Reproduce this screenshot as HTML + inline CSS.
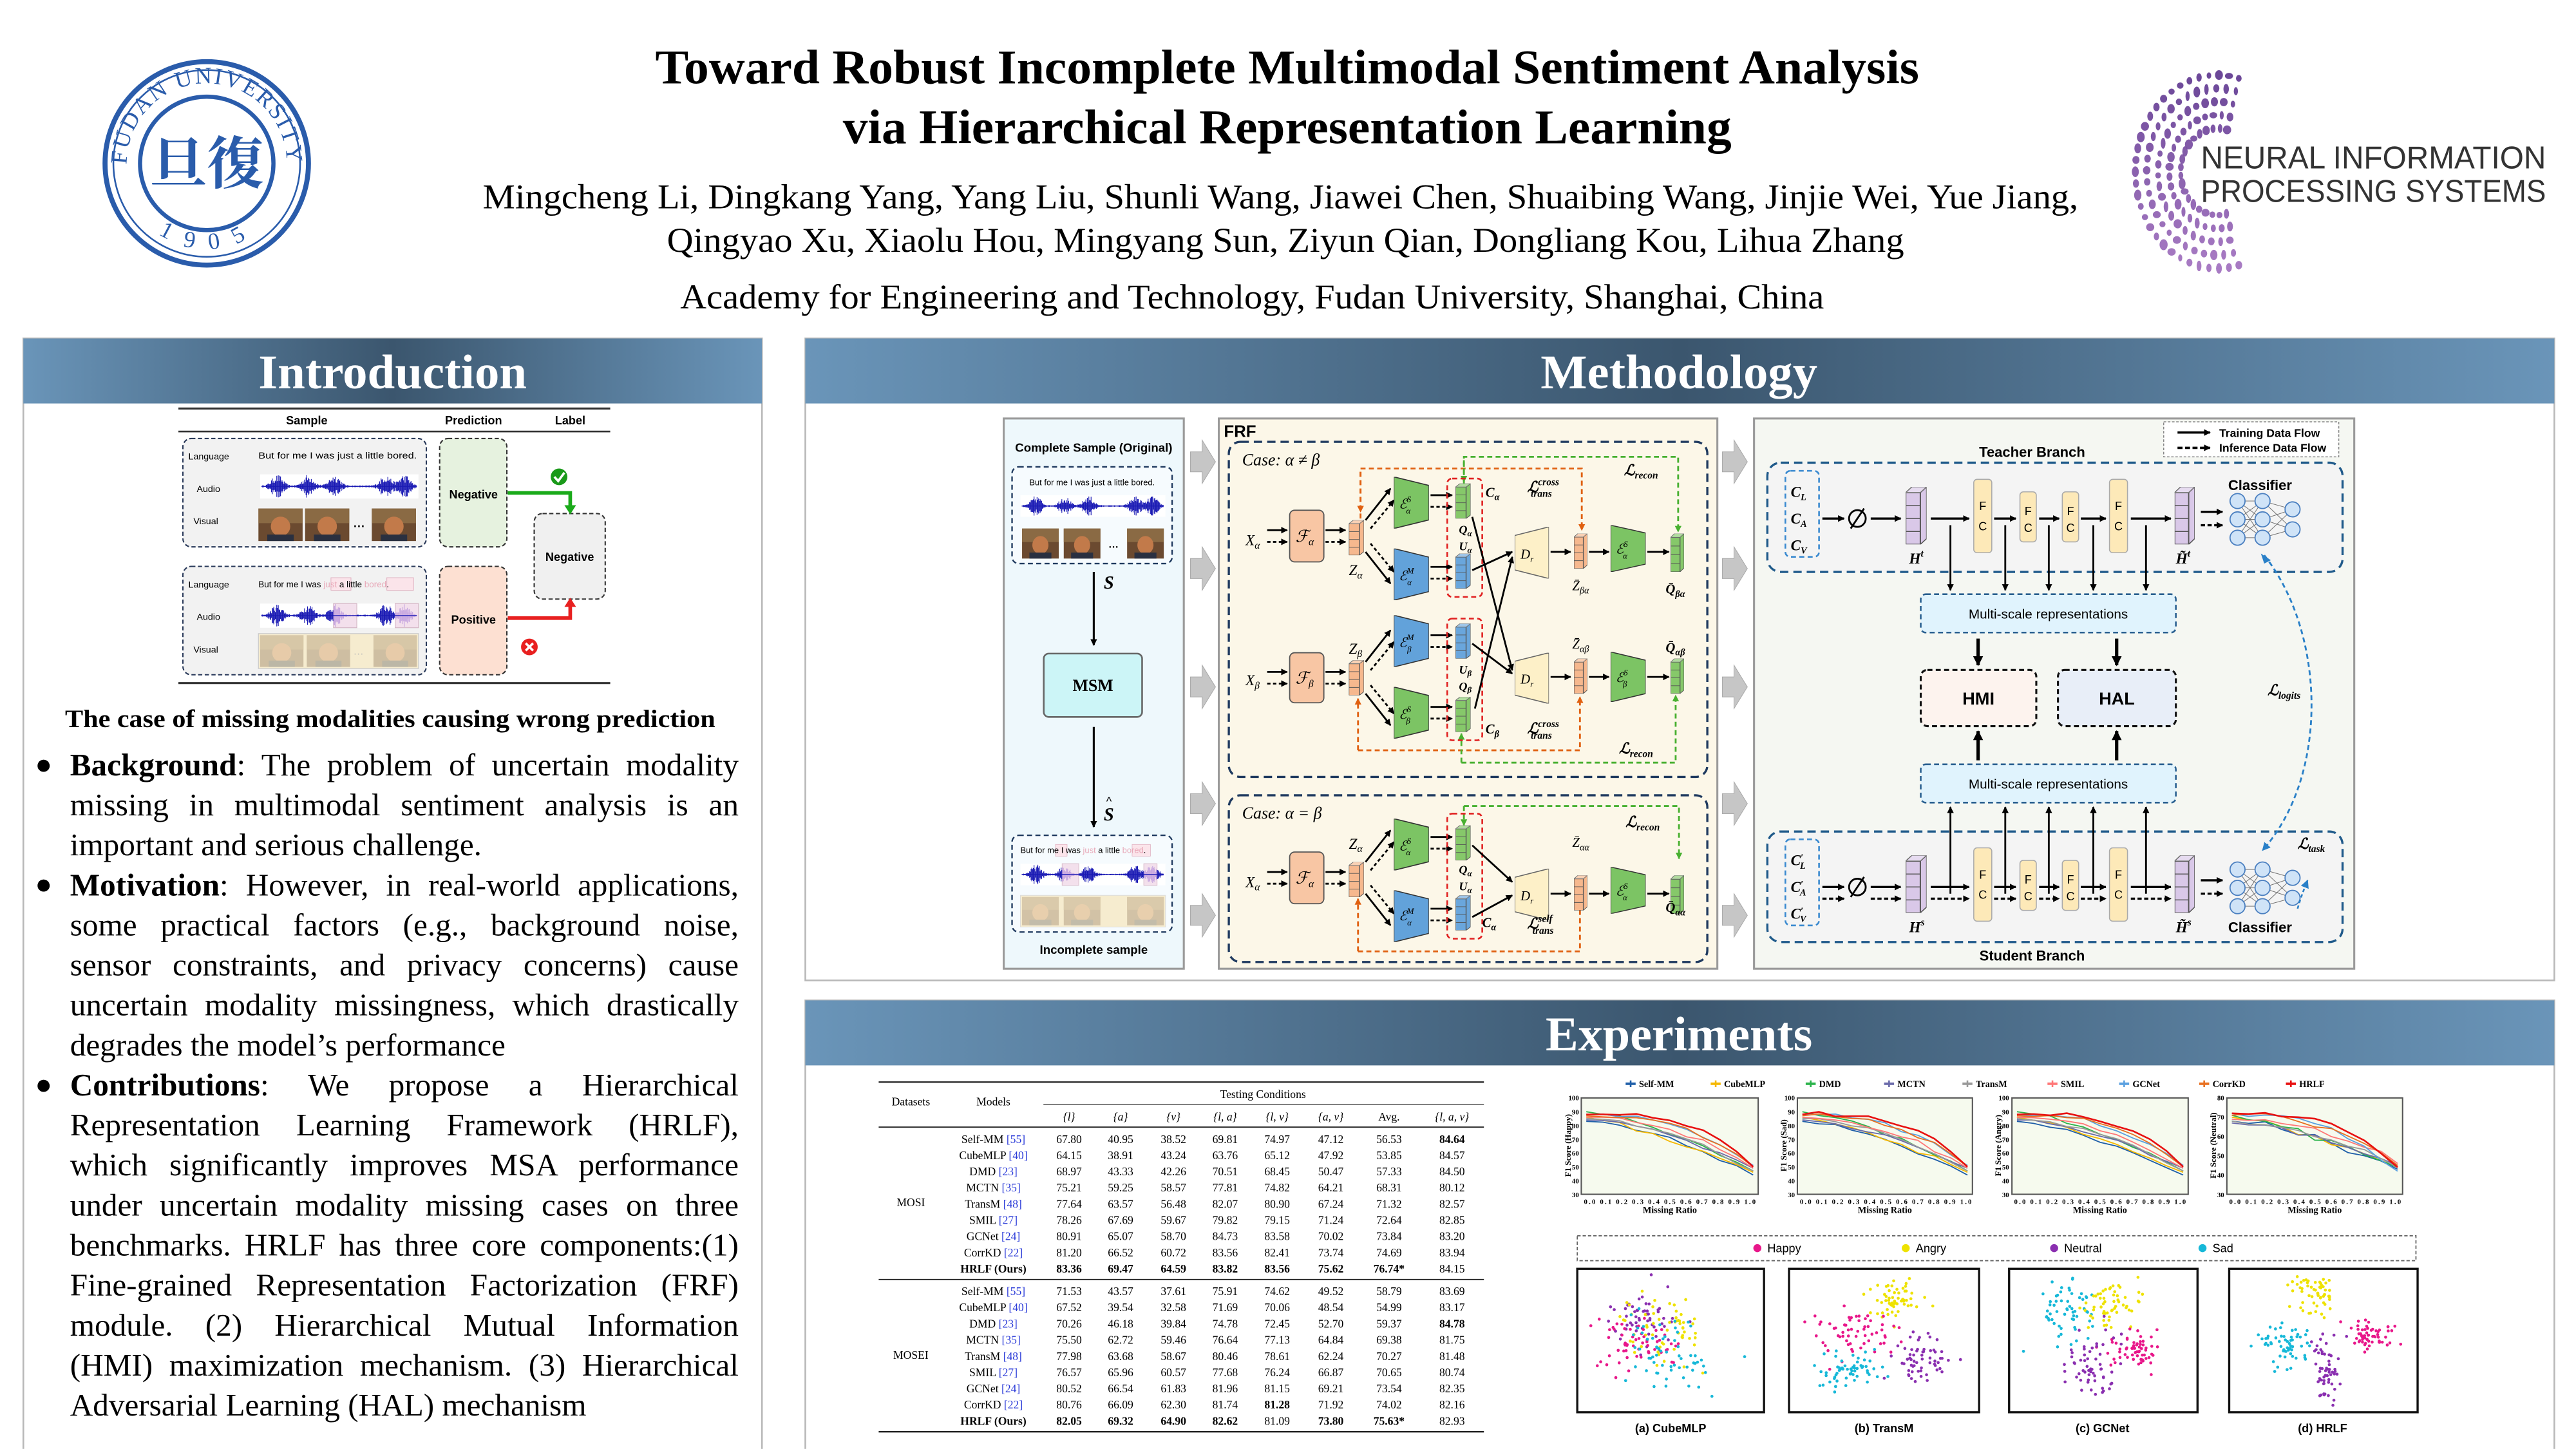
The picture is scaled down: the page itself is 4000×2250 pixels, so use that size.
<!DOCTYPE html>
<html><head><meta charset="utf-8"><style>
html,body{margin:0;padding:0;background:#fff;width:4000px;height:2250px;overflow:hidden}
#p{position:absolute;left:0;top:0;width:1545px;height:869px;transform:scale(2.589);transform-origin:0 0}
svg text{font-family:"Liberation Sans","DejaVu Sans",sans-serif}
.sf{font-family:"Liberation Serif","DejaVu Serif",serif !important}
.m{font-family:"Liberation Serif","DejaVu Serif",serif !important;font-style:italic}
.b{font-weight:bold}
</style></head><body><div id="p">
<svg width="1545" height="869" viewBox="0 0 1545 869" xmlns="http://www.w3.org/2000/svg" style="position:absolute;left:0;top:0">
<defs>
<linearGradient id="hg" x1="0" x2="1" y1="0" y2="0"><stop offset="0" stop-color="#6a95b9"/><stop offset=".5" stop-color="#3b566e"/><stop offset="1" stop-color="#6a95b9"/></linearGradient>
<marker id="ah" viewBox="0 0 10 10" refX="9" refY="5" markerWidth="4" markerHeight="4" markerUnits="userSpaceOnUse" orient="auto"><path d="M0,0 L10,5 L0,10 z" fill="#000"/></marker>
<marker id="ahb" viewBox="0 0 10 10" refX="9" refY="5" markerWidth="6" markerHeight="6" markerUnits="userSpaceOnUse" orient="auto"><path d="M0,0 L10,5 L0,10 z" fill="#000"/></marker>
<marker id="aho" viewBox="0 0 10 10" refX="9" refY="5" markerWidth="4" markerHeight="4" markerUnits="userSpaceOnUse" orient="auto"><path d="M0,0 L10,5 L0,10 z" fill="#e06010"/></marker>
<marker id="ahg" viewBox="0 0 10 10" refX="9" refY="5" markerWidth="4" markerHeight="4" markerUnits="userSpaceOnUse" orient="auto"><path d="M0,0 L10,5 L0,10 z" fill="#48b030"/></marker>
<marker id="ahc" viewBox="0 0 10 10" refX="9" refY="5" markerWidth="5" markerHeight="5" markerUnits="userSpaceOnUse" orient="auto"><path d="M0,0 L10,5 L0,10 z" fill="#2a80c8"/></marker>
<symbol id="stk" viewBox="0 0 10 30" preserveAspectRatio="none"><polygon points="0,3 3,0 10,0 7,3" stroke="#555" stroke-width=".5"/><polygon points="7,3 10,0 10,27 7,30" stroke="#555" stroke-width=".5"/><rect x="0" y="3" width="7" height="27" stroke="#555" stroke-width=".6"/><path d="M0,9.75H7M0,16.5H7M0,23.25H7" stroke="#555" stroke-width=".5"/><polygon points="0,3 3,0 10,0 7,3" fill="#fff" opacity=".35"/></symbol>
<symbol id="enc" viewBox="0 0 20 30" preserveAspectRatio="none"><polygon points="0,0 20,5 20,25 0,30" stroke="#333" stroke-width=".6"/></symbol>
<symbol id="dec" viewBox="0 0 20 30" preserveAspectRatio="none"><polygon points="0,5 20,0 20,30 0,25" stroke="#666" stroke-width=".6"/></symbol>
</defs>

<!-- ===== HEADER ===== -->
<g>
<circle cx="124" cy="98" r="61" fill="#fff" stroke="#2a5cab" stroke-width="3"/>
<circle cx="124" cy="98" r="56" fill="none" stroke="#2a5cab" stroke-width="1"/>
<circle cx="124" cy="98" r="40" fill="none" stroke="#2a5cab" stroke-width="2.5"/>
<path id="arcT" d="M76,98 A48,48 0 0 1 172,98" fill="none"/>
<path id="arcB" d="M86,112 A40,40 0 0 0 162,112" fill="none"/>
<text class="sf" font-size="14" fill="#2a5cab" letter-spacing="1"><textPath href="#arcT" startOffset="50%" text-anchor="middle">FUDAN UNIVERSITY</textPath></text>
<text class="sf" font-size="14" fill="#2a5cab" letter-spacing="6"><textPath href="#arcB" startOffset="50%" text-anchor="middle" dominant-baseline="hanging">1905</textPath></text>
<text x="124" y="110" text-anchor="middle" font-size="34" font-weight="bold" fill="#2a5cab" style="font-family:'Noto Serif CJK SC','Noto Sans CJK SC',serif">旦復</text>
</g>
<g id="nips"></g>
<text x="1320" y="101" font-size="19" fill="#333" textLength="207" lengthAdjust="spacingAndGlyphs">NEURAL INFORMATION</text>
<text x="1320" y="121" font-size="19" fill="#333" textLength="207" lengthAdjust="spacingAndGlyphs">PROCESSING SYSTEMS</text>

<text class="sf b" x="772" y="50" text-anchor="middle" font-size="29" textLength="758" lengthAdjust="spacingAndGlyphs">Toward Robust Incomplete Multimodal Sentiment Analysis</text>
<text class="sf b" x="772" y="86" text-anchor="middle" font-size="29" textLength="533" lengthAdjust="spacingAndGlyphs">via Hierarchical Representation Learning</text>
<text class="sf" x="768" y="125" text-anchor="middle" font-size="21" textLength="957" lengthAdjust="spacingAndGlyphs">Mingcheng Li, Dingkang Yang, Yang Liu, Shunli Wang, Jiawei Chen, Shuaibing Wang, Jinjie Wei, Yue Jiang,</text>
<text class="sf" x="771" y="151" text-anchor="middle" font-size="21" textLength="742" lengthAdjust="spacingAndGlyphs">Qingyao Xu, Xiaolu Hou, Mingyang Sun, Ziyun Qian, Dongliang Kou, Lihua Zhang</text>
<text class="sf" x="751" y="185" text-anchor="middle" font-size="21" textLength="686" lengthAdjust="spacingAndGlyphs">Academy for Engineering and Technology, Fudan University, Shanghai, China</text>

<!-- ===== PANELS ===== -->
<rect x="14" y="203" width="443" height="669" fill="#fff" stroke="#b8b8b8" stroke-width="1"/>
<rect x="14" y="203" width="443" height="39" fill="url(#hg)"/>
<text class="sf b" x="235.5" y="233" text-anchor="middle" font-size="29" fill="#fff" textLength="161" lengthAdjust="spacingAndGlyphs">Introduction</text>
<rect x="483" y="203" width="1049" height="385" fill="#fff" stroke="#b8b8b8" stroke-width="1"/>
<rect x="483" y="203" width="1049" height="39" fill="url(#hg)"/>
<text class="sf b" x="1007" y="233" text-anchor="middle" font-size="29" fill="#fff" textLength="166" lengthAdjust="spacingAndGlyphs">Methodology</text>
<rect x="483" y="600" width="1049" height="272" fill="#fff" stroke="#b8b8b8" stroke-width="1"/>
<rect x="483" y="600" width="1049" height="39" fill="url(#hg)"/>
<text class="sf b" x="1007" y="630" text-anchor="middle" font-size="29" fill="#fff" textLength="160" lengthAdjust="spacingAndGlyphs">Experiments</text>

<!-- ===== INTRO FIGURE ===== -->
<g>
<line x1="107" y1="245" x2="366" y2="245" stroke="#333" stroke-width="1.2"/>
<line x1="107" y1="258.8" x2="366" y2="258.8" stroke="#333" stroke-width="1"/>
<line x1="107" y1="409.7" x2="366" y2="409.7" stroke="#333" stroke-width="1.2"/>
<text x="184" y="254.5" font-size="7" font-weight="bold" text-anchor="middle">Sample</text>
<text x="284" y="254.5" font-size="7" font-weight="bold" text-anchor="middle">Prediction</text>
<text x="342" y="254.5" font-size="7" font-weight="bold" text-anchor="middle">Label</text>
<rect x="109.7" y="263" width="146" height="65" rx="5" fill="#f2f2f2" stroke="#2a3a5a" stroke-width=".8" stroke-dasharray="2.5,1.5"/>
<rect x="109.7" y="339.7" width="146" height="65" rx="5" fill="#f2f2f2" stroke="#2a3a5a" stroke-width=".8" stroke-dasharray="2.5,1.5"/>
<rect x="263.7" y="263" width="40.3" height="65" rx="5" fill="#e6f2df" stroke="#333" stroke-width=".8" stroke-dasharray="2.5,1.5"/>
<rect x="263.7" y="339.7" width="40.3" height="65" rx="5" fill="#fde0d2" stroke="#333" stroke-width=".8" stroke-dasharray="2.5,1.5"/>
<rect x="320.4" y="308" width="42.6" height="51.3" rx="5" fill="#f0f0f0" stroke="#333" stroke-width=".8" stroke-dasharray="2.5,1.5"/>
<text x="284" y="299" font-size="7" font-weight="bold" text-anchor="middle">Negative</text>
<text x="341.7" y="336.5" font-size="7" font-weight="bold" text-anchor="middle">Negative</text>
<text x="284" y="374" font-size="7" font-weight="bold" text-anchor="middle">Positive</text>
<text x="113" y="275.5" font-size="5.5">Language</text><text x="118" y="295" font-size="5.5">Audio</text><text x="116" y="314.5" font-size="5.5">Visual</text>
<text x="113" y="352.5" font-size="5.5">Language</text><text x="118" y="371.8" font-size="5.5">Audio</text><text x="116" y="391.5" font-size="5.5">Visual</text>
<text x="155" y="275" font-size="5.2" textLength="95" lengthAdjust="spacingAndGlyphs">But for me I was just a little bored.</text>
<rect x="198.5" y="346.5" width="12" height="7.5" fill="#fbe4ea" stroke="#e0b0c0" stroke-width=".4"/>
<rect x="232" y="346.5" width="16" height="7.5" fill="#fbe4ea" stroke="#e0b0c0" stroke-width=".4"/>
<text x="155" y="352.3" font-size="5.2">But for me I was <tspan fill="#e8a8b8">just</tspan> a little <tspan fill="#e8a8b8">bored</tspan>.</text>
<rect x="156" y="284.5" width="95" height="14.5" fill="#fff"/>
<rect x="156" y="362" width="95" height="14.5" fill="#fff"/>
<rect x="200" y="362" width="14" height="14.5" fill="#f3e0ec" stroke="#d0b0c0" stroke-width=".4"/>
<rect x="237" y="362" width="14" height="14.5" fill="#f3e0ec" stroke="#d0b0c0" stroke-width=".4"/>
<g id="w1"></g>
<g id="faces1"></g>
<text x="212" y="318" font-size="7" font-weight="bold">···</text>
<rect x="155" y="380" width="96" height="21" fill="#f6eccf" stroke="#ccc" stroke-width=".5"/>
<g id="faces2" opacity=".28"></g>
<text x="212" y="394" font-size="6" fill="#bbb">···</text>
<path d="M304.5,295.6 H342 V304" fill="none" stroke="#1aaa1a" stroke-width="2.2"/>
<polygon points="338.5,303 345.5,303 342,308.5" fill="#1aaa1a"/>
<circle cx="335.3" cy="286" r="5" fill="#1a9a1a"/>
<path d="M332.5,286 L334.8,288.5 L338.5,283.5" fill="none" stroke="#fff" stroke-width="1.4"/>
<path d="M304.5,370.7 H342 V363" fill="none" stroke="#e82020" stroke-width="2.2"/>
<polygon points="338.5,364 345.5,364 342,358.5" fill="#e82020"/>
<circle cx="317.5" cy="388" r="5" fill="#e82020"/>
<path d="M315.3,385.8 L319.7,390.2 M319.7,385.8 L315.3,390.2" stroke="#fff" stroke-width="1.4"/>
<text class="sf b" x="234" y="436" text-anchor="middle" font-size="15" textLength="390" lengthAdjust="spacingAndGlyphs">The case of missing modalities causing wrong prediction</text>
</g>

<!-- ===== INTRO TEXT ===== -->
<g class="sf" font-size="19" style="font-family:'Liberation Serif',serif">
<text x="21" y="464" font-size="17">●</text><text x="21" y="536" font-size="17">●</text><text x="21" y="656" font-size="17">●</text>
<text class="sf jl" x="42" y="465" textLength="401" lengthAdjust="spacing"><tspan font-weight="bold">Background</tspan>: The problem of uncertain modality</text>
<text class="sf jl" x="42" y="489" textLength="401" lengthAdjust="spacing">missing in multimodal sentiment analysis is an</text>
<text class="sf" x="42" y="513">important and serious challenge.</text>
<text class="sf jl" x="42" y="537" textLength="401" lengthAdjust="spacing"><tspan font-weight="bold">Motivation</tspan>: However, in real-world applications,</text>
<text class="sf jl" x="42" y="561" textLength="401" lengthAdjust="spacing">some practical factors (e.g., background noise,</text>
<text class="sf jl" x="42" y="585" textLength="401" lengthAdjust="spacing">sensor constraints, and privacy concerns) cause</text>
<text class="sf jl" x="42" y="609" textLength="401" lengthAdjust="spacing">uncertain modality missingness, which drastically</text>
<text class="sf" x="42" y="633">degrades the model’s performance</text>
<text class="sf jl" x="42" y="657" textLength="401" lengthAdjust="spacing"><tspan font-weight="bold">Contributions</tspan>: We propose a Hierarchical</text>
<text class="sf jl" x="42" y="681" textLength="401" lengthAdjust="spacing">Representation Learning Framework (HRLF),</text>
<text class="sf jl" x="42" y="705" textLength="401" lengthAdjust="spacing">which significantly improves MSA performance</text>
<text class="sf jl" x="42" y="729" textLength="401" lengthAdjust="spacing">under uncertain modality missing cases on three</text>
<text class="sf jl" x="42" y="753" textLength="401" lengthAdjust="spacing">benchmarks. HRLF has three core components:(1)</text>
<text class="sf jl" x="42" y="777" textLength="401" lengthAdjust="spacing">Fine-grained Representation Factorization (FRF)</text>
<text class="sf jl" x="42" y="801" textLength="401" lengthAdjust="spacing">module. (2) Hierarchical Mutual Information</text>
<text class="sf jl" x="42" y="825" textLength="401" lengthAdjust="spacing">(HMI) maximization mechanism. (3) Hierarchical</text>
<text class="sf" x="42" y="849">Adversarial Learning  (HAL) mechanism</text>
</g>

<!-- ===== METHODOLOGY LEFT COLUMN ===== -->
<g>
<rect x="602" y="251" width="108" height="330" fill="#eef8fc" stroke="#9a9a9a" stroke-width="1.2"/>
<text x="656" y="271" font-size="7.2" font-weight="bold" text-anchor="middle">Complete Sample (Original)</text>
<rect x="607" y="280" width="96" height="58" rx="4" fill="#f6fbfe" stroke="#1f3a5f" stroke-width=".9" stroke-dasharray="3,2"/>
<text x="655" y="291" font-size="5" text-anchor="middle">But for me I was just a little bored.</text>
<rect x="612" y="297" width="87" height="13" fill="#fff"/>
<g id="w3"></g>
<g id="faces3"></g>
<text x="665" y="330" font-size="6" font-weight="bold">···</text>
<line x1="656" y1="343" x2="656" y2="387" stroke="#000" stroke-width="1.2" marker-end="url(#ah)"/>
<text class="m b" x="662" y="353" font-size="11">S</text>
<rect x="626" y="392" width="59" height="38" rx="3" fill="#ccf5f7" stroke="#666" stroke-width="1"/>
<text class="sf b" x="655.5" y="414.5" font-size="10" text-anchor="middle">MSM</text>
<line x1="656" y1="436" x2="656" y2="496" stroke="#000" stroke-width="1.2" marker-end="url(#ah)"/>
<text class="m b" x="662" y="492" font-size="11">S</text><text x="663.5" y="483" font-size="7">^</text>
<rect x="607" y="501" width="96" height="58" rx="4" fill="#f6fbfe" stroke="#1f3a5f" stroke-width=".9" stroke-dasharray="3,2"/>
<rect x="633" y="506.5" width="7" height="7" fill="#fbe4ea" stroke="#e0b0c0" stroke-width=".3"/>
<rect x="679" y="506.5" width="11" height="7" fill="#fbe4ea" stroke="#e0b0c0" stroke-width=".3"/>
<text x="612" y="511.5" font-size="5">But for me I was <tspan fill="#e8a8b8">just</tspan> a little <tspan fill="#e8a8b8">bored</tspan>.</text>
<rect x="612" y="518" width="87" height="13" fill="#fff"/>
<rect x="637" y="518" width="10" height="13" fill="#f3e0ec" stroke="#d0b0c0" stroke-width=".3"/>
<rect x="686" y="518" width="8" height="13" fill="#f3e0ec" stroke="#d0b0c0" stroke-width=".3"/>
<g id="w4"></g>
<rect x="612" y="537" width="87" height="19" fill="#f6eccf" stroke="#ddd" stroke-width=".4"/>
<g id="faces4" opacity=".25"></g>
<text x="656" y="572" font-size="7.2" font-weight="bold" text-anchor="middle">Incomplete sample</text>
</g>
<g id="chev" fill="#c6c6c6" stroke="#aaa" stroke-width=".4"></g>

<!-- ===== FRF ===== -->
<g>
<rect x="731" y="251" width="299" height="330" fill="#fcf7e8" stroke="#9a9a9a" stroke-width="1.2"/>
<text x="734" y="262" font-size="10" font-weight="bold">FRF</text>
<rect x="737" y="265" width="287" height="201" rx="7" fill="none" stroke="#1f3a5f" stroke-width="1.3" stroke-dasharray="5,3"/>
<rect x="737" y="477" width="287" height="100" rx="7" fill="none" stroke="#1f3a5f" stroke-width="1.3" stroke-dasharray="5,3"/>
<text class="m" x="745" y="279" font-size="10">Case: α ≠ β</text>
<text class="m" x="745" y="491" font-size="10">Case: α = β</text>

<g fill="none" stroke-width="1.1" stroke-dasharray="3,2">
<path d="M816,311 V281 H948.7 V318" stroke="#e06010" marker-end="url(#aho)"/>
<path d="M878,290 V274 H1006.5 V319" stroke="#48b030" marker-end="url(#ahg)"/>
<path d="M878,276 V289" stroke="#48b030" marker-end="url(#ahg)"/>
<path d="M816,283 V307" stroke="#e06010" marker-end="url(#aho)"/>
<path d="M814.5,450 V419" stroke="#e06010" marker-end="url(#aho)"/>
<path d="M814.5,450 H947.6 V418" stroke="#e06010" marker-end="url(#aho)"/>
<path d="M876.5,457.4 V440" stroke="#48b030" marker-end="url(#ahg)"/>
<path d="M876.5,457.4 H1005 V417" stroke="#48b030" marker-end="url(#ahg)"/>
<path d="M878,483.4 V495" stroke="#48b030" marker-end="url(#ahg)"/>
<path d="M878,483.4 H1007 V515" stroke="#48b030" marker-end="url(#ahg)"/>
<path d="M814.5,570.6 V539" stroke="#e06010" marker-end="url(#aho)"/>
<path d="M814.5,570.6 H947.6 V541" stroke="#e06010" marker-end="url(#aho)"/>
</g>

<g id="row1">
<g stroke="#000" stroke-width="1.1">
<line x1="760" y1="318" x2="772" y2="318" marker-end="url(#ah)"/><line x1="760" y1="325" x2="772" y2="325" stroke-dasharray="2,1.5" marker-end="url(#ah)"/>
<line x1="795" y1="318" x2="807" y2="318" marker-end="url(#ah)"/><line x1="795" y1="325" x2="807" y2="325" stroke-dasharray="2,1.5" marker-end="url(#ah)"/>
<line x1="819" y1="312" x2="834" y2="293" marker-end="url(#ah)"/><line x1="822" y1="317" x2="836" y2="300" stroke-dasharray="2,1.5" marker-end="url(#ah)"/>
<line x1="819" y1="331" x2="834" y2="350" marker-end="url(#ah)"/><line x1="822" y1="326" x2="836" y2="343" stroke-dasharray="2,1.5" marker-end="url(#ah)"/>
<line x1="858" y1="297" x2="871" y2="297" marker-end="url(#ah)"/><line x1="858" y1="304" x2="871" y2="304" stroke-dasharray="2,1.5" marker-end="url(#ah)"/>
<line x1="858" y1="340" x2="871" y2="340" marker-end="url(#ah)"/><line x1="858" y1="347" x2="871" y2="347" stroke-dasharray="2,1.5" marker-end="url(#ah)"/>
<line x1="930" y1="331" x2="942" y2="331" marker-end="url(#ah)"/>
<line x1="953" y1="331" x2="965" y2="331" marker-end="url(#ah)"/>
<line x1="988" y1="331" x2="1001" y2="331" marker-end="url(#ah)"/>
</g>
<rect x="773.5" y="306" width="20.5" height="31" rx="3" fill="#f8c6a4" stroke="#555" stroke-width=".7"/>
<use href="#stk" x="809" y="312" width="9" height="21" fill="#f6b88e"/>
<use href="#enc" x="836" y="286" width="21" height="31" fill="#7cc464"/>
<use href="#enc" x="836" y="329" width="21" height="31" fill="#62a2da"/>
<use href="#stk" x="873" y="290" width="9" height="21" fill="#86c86a"/>
<use href="#stk" x="873" y="332" width="9" height="21" fill="#6aa6dc"/>
<use href="#dec" x="908.5" y="316" width="20.5" height="31" fill="#fdf0c8"/>
<use href="#stk" x="944" y="320" width="8" height="21" fill="#f6b88e"/>
<use href="#enc" x="966" y="315" width="21" height="28" fill="#7cc464"/>
<use href="#stk" x="1002" y="320" width="8" height="23" fill="#86c86a"/>
</g>
<rect x="868" y="287" width="21" height="71" rx="3" fill="none" stroke="#e02020" stroke-width="1" stroke-dasharray="3,2"/>
<g>
<g stroke="#000" stroke-width="1.1">
<line x1="760" y1="403" x2="772" y2="403" marker-end="url(#ah)"/><line x1="760" y1="410" x2="772" y2="410" stroke-dasharray="2,1.5" marker-end="url(#ah)"/>
<line x1="795" y1="403" x2="807" y2="403" marker-end="url(#ah)"/><line x1="795" y1="410" x2="807" y2="410" stroke-dasharray="2,1.5" marker-end="url(#ah)"/>
<line x1="819" y1="397" x2="834" y2="378" marker-end="url(#ah)"/><line x1="822" y1="402" x2="836" y2="385" stroke-dasharray="2,1.5" marker-end="url(#ah)"/>
<line x1="819" y1="416" x2="834" y2="435" marker-end="url(#ah)"/><line x1="822" y1="411" x2="836" y2="428" stroke-dasharray="2,1.5" marker-end="url(#ah)"/>
<line x1="858" y1="381" x2="871" y2="381" marker-end="url(#ah)"/><line x1="858" y1="388" x2="871" y2="388" stroke-dasharray="2,1.5" marker-end="url(#ah)"/>
<line x1="858" y1="424" x2="871" y2="424" marker-end="url(#ah)"/><line x1="858" y1="431" x2="871" y2="431" stroke-dasharray="2,1.5" marker-end="url(#ah)"/>
<line x1="930" y1="406" x2="942" y2="406" marker-end="url(#ah)"/>
<line x1="953" y1="406" x2="965" y2="406" marker-end="url(#ah)"/>
<line x1="988" y1="406" x2="1001" y2="406" marker-end="url(#ah)"/>
</g>
<rect x="773.5" y="391.5" width="20.5" height="30" rx="3" fill="#f8c6a4" stroke="#555" stroke-width=".7"/>
<use href="#stk" x="809" y="396" width="9" height="21" fill="#f6b88e"/>
<use href="#enc" x="836" y="369" width="21" height="31" fill="#62a2da"/>
<use href="#enc" x="836" y="412" width="21" height="31" fill="#7cc464"/>
<use href="#stk" x="873" y="374" width="9" height="21" fill="#6aa6dc"/>
<use href="#stk" x="873" y="418" width="9" height="21" fill="#86c86a"/>
<use href="#dec" x="908.5" y="391.5" width="20.5" height="30.5" fill="#fdf0c8"/>
<use href="#stk" x="944" y="395" width="8" height="21" fill="#f6b88e"/>
<use href="#enc" x="966" y="391" width="21" height="30" fill="#7cc464"/>
<use href="#stk" x="1002" y="395" width="8" height="21" fill="#86c86a"/>
</g>
<rect x="868" y="371" width="21" height="73" rx="3" fill="none" stroke="#e02020" stroke-width="1" stroke-dasharray="3,2"/>
<g stroke="#000" stroke-width="1.1">
<line x1="883" y1="310" x2="907" y2="402" marker-end="url(#ah)"/>
<line x1="883" y1="342" x2="907" y2="331" marker-end="url(#ah)"/>
<line x1="883" y1="386" x2="907" y2="404" marker-end="url(#ah)"/>
<line x1="884.6" y1="425" x2="907" y2="334" marker-end="url(#ah)"/>
</g>
<use href="#row1" y="205"/>
<rect x="868" y="488" width="21" height="75" rx="3" fill="none" stroke="#e02020" stroke-width="1" stroke-dasharray="3,2"/>
<g stroke="#000" stroke-width="1.1">
<line x1="883" y1="507" x2="907" y2="529" marker-end="url(#ah)"/>
<line x1="883" y1="550" x2="907" y2="537" marker-end="url(#ah)"/>
</g>

<g class="m" font-size="9">
<text class="m" x="747" y="327">X<tspan font-size="6" dy="2">α</tspan></text>
<text class="m" x="747" y="411">X<tspan font-size="6" dy="2">β</tspan></text>
<text class="m" x="747" y="532">X<tspan font-size="6" dy="2">α</tspan></text>
<text class="m" x="777" y="325" font-size="10">ℱ<tspan font-size="6" dy="2">α</tspan></text>
<text class="m" x="777" y="410" font-size="10">ℱ<tspan font-size="6" dy="2">β</tspan></text>
<text class="m" x="777" y="530" font-size="10">ℱ<tspan font-size="6" dy="2">α</tspan></text>
<text class="m" x="809" y="345">Z<tspan font-size="6" dy="2">α</tspan></text>
<text class="m" x="809" y="392">Z<tspan font-size="6" dy="2">β</tspan></text>
<text class="m" x="809" y="509">Z<tspan font-size="6" dy="2">α</tspan></text>
<g font-size="8">
<text class="m" x="839" y="305">ℰ<tspan font-size="5" dy="-4">S</tspan><tspan font-size="5" dx="-3" dy="7">α</tspan></text>
<text class="m" x="839" y="348">ℰ<tspan font-size="5" dy="-4">M</tspan><tspan font-size="5" dx="-4" dy="7">α</tspan></text>
<text class="m" x="839" y="388">ℰ<tspan font-size="5" dy="-4">M</tspan><tspan font-size="5" dx="-4" dy="7">β</tspan></text>
<text class="m" x="839" y="431">ℰ<tspan font-size="5" dy="-4">S</tspan><tspan font-size="5" dx="-3" dy="7">β</tspan></text>
<text class="m" x="839" y="510">ℰ<tspan font-size="5" dy="-4">S</tspan><tspan font-size="5" dx="-3" dy="7">α</tspan></text>
<text class="m" x="839" y="552">ℰ<tspan font-size="5" dy="-4">M</tspan><tspan font-size="5" dx="-4" dy="7">α</tspan></text>
<text class="m" x="969" y="332">ℰ<tspan font-size="5" dy="-4">S</tspan><tspan font-size="5" dx="-3" dy="7">α</tspan></text>
<text class="m" x="969" y="409">ℰ<tspan font-size="5" dy="-4">S</tspan><tspan font-size="5" dx="-3" dy="7">β</tspan></text>
<text class="m" x="969" y="537">ℰ<tspan font-size="5" dy="-4">S</tspan><tspan font-size="5" dx="-3" dy="7">α</tspan></text>
<text class="m" x="912" y="335">D<tspan font-size="5" dy="2">r</tspan></text>
<text class="m" x="912" y="410">D<tspan font-size="5" dy="2">r</tspan></text>
<text class="m" x="912" y="540">D<tspan font-size="5" dy="2">r</tspan></text>
</g>
<text class="m b" x="875" y="320" font-size="7">Q<tspan font-size="5" dy="1.5">α</tspan></text>
<text class="m b" x="875" y="330" font-size="7">U<tspan font-size="5" dy="1.5">α</tspan></text>
<text class="m b" x="875" y="404" font-size="7">U<tspan font-size="5" dy="1.5">β</tspan></text>
<text class="m b" x="875" y="414" font-size="7">Q<tspan font-size="5" dy="1.5">β</tspan></text>
<text class="m b" x="875" y="524" font-size="7">Q<tspan font-size="5" dy="1.5">α</tspan></text>
<text class="m b" x="875" y="534" font-size="7">U<tspan font-size="5" dy="1.5">α</tspan></text>
<text class="m b" x="891" y="298" font-size="8">C<tspan font-size="5.5" dy="2">α</tspan></text>
<text class="m b" x="891" y="440" font-size="8">C<tspan font-size="5.5" dy="2">β</tspan></text>
<text class="m b" x="889" y="556" font-size="8">C<tspan font-size="5.5" dy="2">α</tspan></text>
<text class="m" x="943" y="354" font-size="8">Z̄<tspan font-size="5.5" dy="2">βα</tspan></text>
<text class="m" x="943" y="389" font-size="8">Z̄<tspan font-size="5.5" dy="2">αβ</tspan></text>
<text class="m" x="943" y="508" font-size="8">Z̄<tspan font-size="5.5" dy="2">αα</tspan></text>
<text class="m b" x="999" y="356" font-size="8">Q̄<tspan font-size="5.5" dy="2">βα</tspan></text>
<text class="m b" x="999" y="391" font-size="8">Q̄<tspan font-size="5.5" dy="2">αβ</tspan></text>
<text class="m b" x="999" y="547" font-size="8">Q̄<tspan font-size="5.5" dy="2">αα</tspan></text>
<text class="m b" x="916" y="295" font-size="9">ℒ<tspan font-size="6" dy="-4">cross</tspan><tspan font-size="6" dx="-17" dy="7">trans</tspan></text>
<text class="m b" x="916" y="440" font-size="9">ℒ<tspan font-size="6" dy="-4">cross</tspan><tspan font-size="6" dx="-17" dy="7">trans</tspan></text>
<text class="m b" x="916" y="557" font-size="9">ℒ<tspan font-size="6" dy="-4">self</tspan><tspan font-size="6" dx="-12" dy="7">trans</tspan></text>
<text class="m b" x="974" y="285" font-size="9">ℒ<tspan font-size="6" dy="2">recon</tspan></text>
<text class="m b" x="971" y="452" font-size="9">ℒ<tspan font-size="6" dy="2">recon</tspan></text>
<text class="m b" x="975" y="496" font-size="9">ℒ<tspan font-size="6" dy="2">recon</tspan></text>
</g>
</g>

<!-- ===== RIGHT (Teacher/Student) ===== -->
<g>
<rect x="1052" y="251" width="360" height="330" fill="#f5f7f2" stroke="#9a9a9a" stroke-width="1.2"/>
<rect x="1297.7" y="253" width="105" height="21" fill="#fff" stroke="#888" stroke-width=".6" stroke-dasharray="1.5,1"/>
<line x1="1306" y1="259.4" x2="1325.5" y2="259.4" stroke="#000" stroke-width="1.4" marker-end="url(#ah)"/>
<line x1="1306" y1="268.6" x2="1325.5" y2="268.6" stroke="#000" stroke-width="1.4" stroke-dasharray="3,1.5" marker-end="url(#ah)"/>
<text x="1331" y="262" font-size="6.8" font-weight="bold">Training Data Flow</text>
<text x="1331" y="271" font-size="6.8" font-weight="bold">Inference Data Flow</text>
<text x="1218.8" y="274" font-size="8.5" font-weight="bold" text-anchor="middle">Teacher Branch</text>
<text x="1218.8" y="576" font-size="8.5" font-weight="bold" text-anchor="middle">Student Branch</text>
<rect x="1060" y="277.5" width="345" height="65.5" rx="8" fill="#f4f4f4" stroke="#1f5a8a" stroke-width="1.3" stroke-dasharray="5,3"/>
<rect x="1060" y="498.7" width="345" height="66.3" rx="8" fill="#f4f4f4" stroke="#1f5a8a" stroke-width="1.3" stroke-dasharray="5,3"/>
<g id="branchT">
<rect x="1070.8" y="282.4" width="20.2" height="51.6" rx="3" fill="none" stroke="#3a8ad0" stroke-width="1" stroke-dasharray="3,2"/>
<g stroke="#000" stroke-width="1.3">
<line x1="1093" y1="311" x2="1106" y2="311" marker-end="url(#ah)"/>
<line x1="1122" y1="311" x2="1140" y2="311" marker-end="url(#ah)"/>
<line x1="1158" y1="311" x2="1181" y2="311" marker-end="url(#ah)"/>
<line x1="1196" y1="311" x2="1209" y2="311" marker-end="url(#ah)"/>
<line x1="1223" y1="311" x2="1235" y2="311" marker-end="url(#ah)"/>
<line x1="1248" y1="311" x2="1263" y2="311" marker-end="url(#ah)"/>
<line x1="1278" y1="311" x2="1302" y2="311" marker-end="url(#ah)"/>
<line x1="1320" y1="307" x2="1333" y2="307" marker-end="url(#ah)"/>
<line x1="1320" y1="315" x2="1333" y2="315" stroke-dasharray="2.5,1.5" marker-end="url(#ah)"/>
</g>
<circle cx="1114" cy="311" r="5" fill="none" stroke="#000" stroke-width="1.1"/>
<line x1="1110" y1="317" x2="1118" y2="305" stroke="#000" stroke-width="1.1"/>
<use href="#stk" x="1143" y="292" width="12.5" height="34.5" fill="#d9c8e8"/>
<rect x="1183.8" y="287.5" width="10.8" height="44" rx="2" fill="#fde9b8" stroke="#aaa" stroke-width=".6"/>
<rect x="1211.5" y="295" width="9.8" height="30" rx="2" fill="#fde9b8" stroke="#aaa" stroke-width=".6"/>
<rect x="1236.9" y="295" width="9.8" height="30" rx="2" fill="#fde9b8" stroke="#aaa" stroke-width=".6"/>
<rect x="1265.2" y="287.5" width="10.8" height="44" rx="2" fill="#fde9b8" stroke="#aaa" stroke-width=".6"/>
<use href="#stk" x="1304.3" y="292" width="12" height="34.5" fill="#d9c8e8"/>
</g>
<use href="#branchT" y="221"/>
<g stroke="#000" stroke-width="1.3">
<line x1="1093" y1="539" x2="1106" y2="539" stroke-dasharray="2.5,1.5" marker-end="url(#ah)"/>
<line x1="1122" y1="539" x2="1140" y2="539" stroke-dasharray="2.5,1.5" marker-end="url(#ah)"/>
<line x1="1158" y1="539" x2="1181" y2="539" stroke-dasharray="2.5,1.5" marker-end="url(#ah)"/>
<line x1="1196" y1="539" x2="1209" y2="539" stroke-dasharray="2.5,1.5" marker-end="url(#ah)"/>
<line x1="1223" y1="539" x2="1235" y2="539" stroke-dasharray="2.5,1.5" marker-end="url(#ah)"/>
<line x1="1248" y1="539" x2="1263" y2="539" stroke-dasharray="2.5,1.5" marker-end="url(#ah)"/>
<line x1="1278" y1="539" x2="1302" y2="539" stroke-dasharray="2.5,1.5" marker-end="url(#ah)"/>
</g>
<g font-size="7" text-anchor="middle">
<text x="1189.2" y="306">F</text><text x="1189.2" y="318">C</text>
<text x="1216.4" y="309">F</text><text x="1216.4" y="319">C</text>
<text x="1241.8" y="309">F</text><text x="1241.8" y="319">C</text>
<text x="1270.6" y="306">F</text><text x="1270.6" y="318">C</text>
<text x="1189.2" y="527">F</text><text x="1189.2" y="539">C</text>
<text x="1216.4" y="530">F</text><text x="1216.4" y="540">C</text>
<text x="1241.8" y="530">F</text><text x="1241.8" y="540">C</text>
<text x="1270.6" y="527">F</text><text x="1270.6" y="539">C</text>
</g>
<g class="m b" font-size="9">
<text class="m b" x="1074" y="298">C<tspan font-size="5.5" dy="2">L</tspan></text>
<text class="m b" x="1074" y="314">C<tspan font-size="5.5" dy="2">A</tspan></text>
<text class="m b" x="1074" y="330">C<tspan font-size="5.5" dy="2">V</tspan></text>
<text class="m b" x="1074" y="519">C<tspan font-size="5.5" dy="-3">′</tspan><tspan font-size="5.5" dx="-2" dy="5">L</tspan></text>
<text class="m b" x="1074" y="535">C<tspan font-size="5.5" dy="-3">′</tspan><tspan font-size="5.5" dx="-2" dy="5">A</tspan></text>
<text class="m b" x="1074" y="551">C<tspan font-size="5.5" dy="-3">′</tspan><tspan font-size="5.5" dx="-2" dy="5">V</tspan></text>
<text class="m b" x="1145" y="338">H<tspan font-size="6" dy="-4">t</tspan></text>
<text class="m b" x="1305" y="338">H̃<tspan font-size="6" dy="-4">t</tspan></text>
<text class="m b" x="1145" y="559">H<tspan font-size="6" dy="-4">s</tspan></text>
<text class="m b" x="1305" y="559">H̃<tspan font-size="6" dy="-4">s</tspan></text>
<text class="m b" x="1360" y="417" font-size="9">ℒ<tspan font-size="6" dy="2">logits</tspan></text>
<text class="m b" x="1378" y="509" font-size="9">ℒ<tspan font-size="6" dy="2">task</tspan></text>
</g>
<text x="1355.5" y="294" font-size="8.5" font-weight="bold" text-anchor="middle">Classifier</text>
<text x="1355.5" y="559" font-size="8.5" font-weight="bold" text-anchor="middle">Classifier</text>
<g id="nn"></g>
<g stroke="#000" stroke-width="1.1">
<line x1="1169.8" y1="315" x2="1169.8" y2="354" marker-end="url(#ah)"/>
<line x1="1202.7" y1="315" x2="1202.7" y2="354" marker-end="url(#ah)"/>
<line x1="1228.8" y1="315" x2="1228.8" y2="354" marker-end="url(#ah)"/>
<line x1="1255.5" y1="315" x2="1255.5" y2="354" marker-end="url(#ah)"/>
<line x1="1287.1" y1="315" x2="1287.1" y2="354" marker-end="url(#ah)"/>
<line x1="1169.8" y1="536" x2="1169.8" y2="484" marker-end="url(#ah)"/>
<line x1="1202.7" y1="536" x2="1202.7" y2="484" marker-end="url(#ah)"/>
<line x1="1228.8" y1="536" x2="1228.8" y2="484" marker-end="url(#ah)"/>
<line x1="1255.5" y1="536" x2="1255.5" y2="484" marker-end="url(#ah)"/>
<line x1="1287.1" y1="536" x2="1287.1" y2="484" marker-end="url(#ah)"/>
</g>
<g stroke="#000" stroke-width="2">
<line x1="1186.4" y1="383" x2="1186.4" y2="399" marker-end="url(#ahb)"/>
<line x1="1269.5" y1="383" x2="1269.5" y2="399" marker-end="url(#ahb)"/>
<line x1="1186.4" y1="456" x2="1186.4" y2="438.5" marker-end="url(#ahb)"/>
<line x1="1269.5" y1="456" x2="1269.5" y2="438.5" marker-end="url(#ahb)"/>
</g>
<rect x="1152" y="356.4" width="153" height="23" rx="3" fill="#e0f3fd" stroke="#2a6090" stroke-width="1" stroke-dasharray="3,2"/>
<rect x="1152" y="458.4" width="153" height="23" rx="3" fill="#e0f3fd" stroke="#2a6090" stroke-width="1" stroke-dasharray="3,2"/>
<text x="1228.5" y="371" font-size="8" text-anchor="middle">Multi-scale representations</text>
<text x="1228.5" y="473" font-size="8" text-anchor="middle">Multi-scale representations</text>
<rect x="1152" y="401.8" width="69.3" height="33.7" rx="4" fill="#fdf3ee" stroke="#111" stroke-width="1.2" stroke-dasharray="3,2"/>
<rect x="1234.3" y="401.8" width="70.7" height="33.7" rx="4" fill="#e8eef8" stroke="#111" stroke-width="1.2" stroke-dasharray="3,2"/>
<text x="1186.6" y="422.5" font-size="10.5" font-weight="bold" text-anchor="middle">HMI</text>
<text x="1269.6" y="422.5" font-size="10.5" font-weight="bold" text-anchor="middle">HAL</text>
<path d="M1358,333 C1395,380 1397,465 1357,510" fill="none" stroke="#2a80c8" stroke-width="1.1" stroke-dasharray="3,2" marker-end="url(#ahc)"/>
<polygon points="1356,332 1362,336 1358,338" fill="#2a80c8"/>
<path d="M1378,545 C1380,538 1382,533 1384,528" fill="none" stroke="#2a80c8" stroke-width="1" stroke-dasharray="2,1.5" marker-end="url(#ahc)"/>
</g>

<!-- ===== TABLE ===== -->
<g class="sf" font-size="6.8" text-anchor="middle" style="font-family:'Liberation Serif',serif">
<line x1="527" y1="649" x2="890" y2="649" stroke="#222" stroke-width=".9"/>
<line x1="625.8" y1="662.4" x2="890" y2="662.4" stroke="#444" stroke-width=".5"/>
<line x1="527" y1="676" x2="890" y2="676" stroke="#222" stroke-width=".7"/>
<line x1="527" y1="767.4" x2="890" y2="767.4" stroke="#222" stroke-width=".7"/>
<line x1="527" y1="858.7" x2="890" y2="858.7" stroke="#222" stroke-width=".9"/>
<text class="sf" x="546.3" y="663">Datasets</text><text class="sf" x="595.8" y="663">Models</text>
<text class="sf" x="757.5" y="658.5">Testing Conditions</text>
<g font-style="italic">
<text class="sf" x="641.2" y="672">{l}</text><text class="sf" x="672.1" y="672">{a}</text><text class="sf" x="703.8" y="672">{v}</text><text class="sf" x="734.8" y="672">{l, a}</text><text class="sf" x="766" y="672">{l, v}</text><text class="sf" x="798.2" y="672">{a, v}</text><text class="sf" x="870.9" y="672">{l, a, v}</text>
</g>
<text class="sf" x="833.1" y="672">Avg.</text>
<text class="sf" x="546.3" y="723.5">MOSI</text><text class="sf" x="546.3" y="815">MOSEI</text>
</g>
<g class="sf" font-size="6.8" text-anchor="middle" style="font-family:'Liberation Serif',serif">
<text class="sf" y="685.5"><tspan x="595.8">Self-MM <tspan fill="#2a3ad8">[55]</tspan></tspan><tspan x="641.2">67.80</tspan><tspan x="672.1">40.95</tspan><tspan x="703.8">38.52</tspan><tspan x="734.8">69.81</tspan><tspan x="766">74.97</tspan><tspan x="798.2">47.12</tspan><tspan x="833.1">56.53</tspan><tspan x="870.9" font-weight="bold">84.64</tspan></text>
<text class="sf" y="695.2"><tspan x="595.8">CubeMLP <tspan fill="#2a3ad8">[40]</tspan></tspan><tspan x="641.2">64.15</tspan><tspan x="672.1">38.91</tspan><tspan x="703.8">43.24</tspan><tspan x="734.8">63.76</tspan><tspan x="766">65.12</tspan><tspan x="798.2">47.92</tspan><tspan x="833.1">53.85</tspan><tspan x="870.9">84.57</tspan></text>
<text class="sf" y="704.9"><tspan x="595.8">DMD <tspan fill="#2a3ad8">[23]</tspan></tspan><tspan x="641.2">68.97</tspan><tspan x="672.1">43.33</tspan><tspan x="703.8">42.26</tspan><tspan x="734.8">70.51</tspan><tspan x="766">68.45</tspan><tspan x="798.2">50.47</tspan><tspan x="833.1">57.33</tspan><tspan x="870.9">84.50</tspan></text>
<text class="sf" y="714.6"><tspan x="595.8">MCTN <tspan fill="#2a3ad8">[35]</tspan></tspan><tspan x="641.2">75.21</tspan><tspan x="672.1">59.25</tspan><tspan x="703.8">58.57</tspan><tspan x="734.8">77.81</tspan><tspan x="766">74.82</tspan><tspan x="798.2">64.21</tspan><tspan x="833.1">68.31</tspan><tspan x="870.9">80.12</tspan></text>
<text class="sf" y="724.4"><tspan x="595.8">TransM <tspan fill="#2a3ad8">[48]</tspan></tspan><tspan x="641.2">77.64</tspan><tspan x="672.1">63.57</tspan><tspan x="703.8">56.48</tspan><tspan x="734.8">82.07</tspan><tspan x="766">80.90</tspan><tspan x="798.2">67.24</tspan><tspan x="833.1">71.32</tspan><tspan x="870.9">82.57</tspan></text>
<text class="sf" y="734.1"><tspan x="595.8">SMIL <tspan fill="#2a3ad8">[27]</tspan></tspan><tspan x="641.2">78.26</tspan><tspan x="672.1">67.69</tspan><tspan x="703.8">59.67</tspan><tspan x="734.8">79.82</tspan><tspan x="766">79.15</tspan><tspan x="798.2">71.24</tspan><tspan x="833.1">72.64</tspan><tspan x="870.9">82.85</tspan></text>
<text class="sf" y="743.8"><tspan x="595.8">GCNet <tspan fill="#2a3ad8">[24]</tspan></tspan><tspan x="641.2">80.91</tspan><tspan x="672.1">65.07</tspan><tspan x="703.8">58.70</tspan><tspan x="734.8">84.73</tspan><tspan x="766">83.58</tspan><tspan x="798.2">70.02</tspan><tspan x="833.1">73.84</tspan><tspan x="870.9">83.20</tspan></text>
<text class="sf" y="753.5"><tspan x="595.8">CorrKD <tspan fill="#2a3ad8">[22]</tspan></tspan><tspan x="641.2">81.20</tspan><tspan x="672.1">66.52</tspan><tspan x="703.8">60.72</tspan><tspan x="734.8">83.56</tspan><tspan x="766">82.41</tspan><tspan x="798.2">73.74</tspan><tspan x="833.1">74.69</tspan><tspan x="870.9">83.94</tspan></text>
<text class="sf" y="763.2" font-weight="bold"><tspan x="595.8">HRLF (Ours)</tspan><tspan x="641.2">83.36</tspan><tspan x="672.1">69.47</tspan><tspan x="703.8">64.59</tspan><tspan x="734.8">83.82</tspan><tspan x="766">83.56</tspan><tspan x="798.2">75.62</tspan><tspan x="833.1">76.74*</tspan><tspan x="870.9" font-weight="normal">84.15</tspan></text>
<text class="sf" y="776.8"><tspan x="595.8">Self-MM <tspan fill="#2a3ad8">[55]</tspan></tspan><tspan x="641.2">71.53</tspan><tspan x="672.1">43.57</tspan><tspan x="703.8">37.61</tspan><tspan x="734.8">75.91</tspan><tspan x="766">74.62</tspan><tspan x="798.2">49.52</tspan><tspan x="833.1">58.79</tspan><tspan x="870.9">83.69</tspan></text>
<text class="sf" y="786.5"><tspan x="595.8">CubeMLP <tspan fill="#2a3ad8">[40]</tspan></tspan><tspan x="641.2">67.52</tspan><tspan x="672.1">39.54</tspan><tspan x="703.8">32.58</tspan><tspan x="734.8">71.69</tspan><tspan x="766">70.06</tspan><tspan x="798.2">48.54</tspan><tspan x="833.1">54.99</tspan><tspan x="870.9">83.17</tspan></text>
<text class="sf" y="796.2"><tspan x="595.8">DMD <tspan fill="#2a3ad8">[23]</tspan></tspan><tspan x="641.2">70.26</tspan><tspan x="672.1">46.18</tspan><tspan x="703.8">39.84</tspan><tspan x="734.8">74.78</tspan><tspan x="766">72.45</tspan><tspan x="798.2">52.70</tspan><tspan x="833.1">59.37</tspan><tspan x="870.9" font-weight="bold">84.78</tspan></text>
<text class="sf" y="806"><tspan x="595.8">MCTN <tspan fill="#2a3ad8">[35]</tspan></tspan><tspan x="641.2">75.50</tspan><tspan x="672.1">62.72</tspan><tspan x="703.8">59.46</tspan><tspan x="734.8">76.64</tspan><tspan x="766">77.13</tspan><tspan x="798.2">64.84</tspan><tspan x="833.1">69.38</tspan><tspan x="870.9">81.75</tspan></text>
<text class="sf" y="815.7"><tspan x="595.8">TransM <tspan fill="#2a3ad8">[48]</tspan></tspan><tspan x="641.2">77.98</tspan><tspan x="672.1">63.68</tspan><tspan x="703.8">58.67</tspan><tspan x="734.8">80.46</tspan><tspan x="766">78.61</tspan><tspan x="798.2">62.24</tspan><tspan x="833.1">70.27</tspan><tspan x="870.9">81.48</tspan></text>
<text class="sf" y="825.4"><tspan x="595.8">SMIL <tspan fill="#2a3ad8">[27]</tspan></tspan><tspan x="641.2">76.57</tspan><tspan x="672.1">65.96</tspan><tspan x="703.8">60.57</tspan><tspan x="734.8">77.68</tspan><tspan x="766">76.24</tspan><tspan x="798.2">66.87</tspan><tspan x="833.1">70.65</tspan><tspan x="870.9">80.74</tspan></text>
<text class="sf" y="835.1"><tspan x="595.8">GCNet <tspan fill="#2a3ad8">[24]</tspan></tspan><tspan x="641.2">80.52</tspan><tspan x="672.1">66.54</tspan><tspan x="703.8">61.83</tspan><tspan x="734.8">81.96</tspan><tspan x="766">81.15</tspan><tspan x="798.2">69.21</tspan><tspan x="833.1">73.54</tspan><tspan x="870.9">82.35</tspan></text>
<text class="sf" y="844.8"><tspan x="595.8">CorrKD <tspan fill="#2a3ad8">[22]</tspan></tspan><tspan x="641.2">80.76</tspan><tspan x="672.1">66.09</tspan><tspan x="703.8">62.30</tspan><tspan x="734.8">81.74</tspan><tspan x="766" font-weight="bold">81.28</tspan><tspan x="798.2">71.92</tspan><tspan x="833.1">74.02</tspan><tspan x="870.9">82.16</tspan></text>
<text class="sf" y="854.5" font-weight="bold"><tspan x="595.8">HRLF (Ours)</tspan><tspan x="641.2">82.05</tspan><tspan x="672.1">69.32</tspan><tspan x="703.8">64.90</tspan><tspan x="734.8">82.62</tspan><tspan x="766" font-weight="normal">81.09</tspan><tspan x="798.2">73.80</tspan><tspan x="833.1">75.63*</tspan><tspan x="870.9" font-weight="normal">82.93</tspan></text>
</g>

<!-- ===== CHARTS ===== -->
<g class="sf" style="font-family:'Liberation Serif',serif" font-size="5.5" font-weight="bold">
<text class="sf" y="652"><tspan x="983">Self-MM</tspan><tspan x="1034">CubeMLP</tspan><tspan x="1091">DMD</tspan><tspan x="1138">MCTN</tspan><tspan x="1185">TransM</tspan><tspan x="1236">SMIL</tspan><tspan x="1279">GCNet</tspan><tspan x="1327">CorrKD</tspan><tspan x="1379">HRLF</tspan></text>
</g>
<g id="leg"></g>
<g id="charts"></g>
<g class="sf" font-size="4.2" text-anchor="end" style="font-family:'Liberation Serif',serif" font-weight="bold">
<text class="sf" x="947" y="660">100</text><text class="sf" x="947" y="668.5">90</text><text class="sf" x="947" y="676.7">80</text><text class="sf" x="947" y="685">70</text><text class="sf" x="947" y="693.2">60</text><text class="sf" x="947" y="701.5">50</text><text class="sf" x="947" y="709.7">40</text><text class="sf" x="947" y="718">30</text>
<text class="sf" x="1076.5" y="660">100</text><text class="sf" x="1076.5" y="668.5">90</text><text class="sf" x="1076.5" y="676.7">80</text><text class="sf" x="1076.5" y="685">70</text><text class="sf" x="1076.5" y="693.2">60</text><text class="sf" x="1076.5" y="701.5">50</text><text class="sf" x="1076.5" y="709.7">40</text><text class="sf" x="1076.5" y="718">30</text>
<text class="sf" x="1205" y="660">100</text><text class="sf" x="1205" y="668.5">90</text><text class="sf" x="1205" y="676.7">80</text><text class="sf" x="1205" y="685">70</text><text class="sf" x="1205" y="693.2">60</text><text class="sf" x="1205" y="701.5">50</text><text class="sf" x="1205" y="709.7">40</text><text class="sf" x="1205" y="718">30</text>
<text class="sf" x="1334" y="660">80</text><text class="sf" x="1334" y="671.5">70</text><text class="sf" x="1334" y="683">60</text><text class="sf" x="1334" y="694.7">50</text><text class="sf" x="1334" y="706.3">40</text><text class="sf" x="1334" y="718">30</text>
</g>
<g class="sf" font-size="4.2" style="font-family:'Liberation Serif',serif" font-weight="bold">
<text class="sf" x="950" y="722" textLength="103" lengthAdjust="spacing">0.0 0.1 0.2 0.3 0.4 0.5 0.6 0.7 0.8 0.9 1.0</text>
<text class="sf" x="1079.5" y="722" textLength="103" lengthAdjust="spacing">0.0 0.1 0.2 0.3 0.4 0.5 0.6 0.7 0.8 0.9 1.0</text>
<text class="sf" x="1208" y="722" textLength="103" lengthAdjust="spacing">0.0 0.1 0.2 0.3 0.4 0.5 0.6 0.7 0.8 0.9 1.0</text>
<text class="sf" x="1337" y="722" textLength="103" lengthAdjust="spacing">0.0 0.1 0.2 0.3 0.4 0.5 0.6 0.7 0.8 0.9 1.0</text>
</g>
<g class="sf" font-size="5.5" text-anchor="middle" style="font-family:'Liberation Serif',serif" font-weight="bold">
<text class="sf" x="1001.5" y="727.5">Missing Ratio</text><text class="sf" x="1130.5" y="727.5">Missing Ratio</text><text class="sf" x="1259.5" y="727.5">Missing Ratio</text><text class="sf" x="1388.3" y="727.5">Missing Ratio</text>
<text class="sf" transform="translate(942,687) rotate(-90)" font-size="5">F1 Score (Happy)</text>
<text class="sf" transform="translate(1071.5,687) rotate(-90)" font-size="5">F1 Score (Sad)</text>
<text class="sf" transform="translate(1200,687) rotate(-90)" font-size="5">F1 Score (Angry)</text>
<text class="sf" transform="translate(1329,687) rotate(-90)" font-size="5">F1 Score (Neutral)</text>
</g>

<!-- ===== SCATTER ===== -->
<rect x="946" y="741.2" width="503" height="14.9" fill="none" stroke="#666" stroke-width=".7" stroke-dasharray="2,1.2"/>
<circle cx="1054" cy="748.6" r="2.4" fill="#e8178a"/><text x="1060" y="751" font-size="7">Happy</text>
<circle cx="1143" cy="748.6" r="2.4" fill="#eee200"/><text x="1149" y="751" font-size="7">Angry</text>
<circle cx="1232" cy="748.6" r="2.4" fill="#8a2fb0"/><text x="1238" y="751" font-size="7">Neutral</text>
<circle cx="1321" cy="748.6" r="2.4" fill="#16b8d8"/><text x="1327" y="751" font-size="7">Sad</text>
<g fill="#fff" stroke="#111" stroke-width="1.3">
<rect x="946" y="761" width="112" height="86"/><rect x="1073" y="761" width="114" height="86"/><rect x="1205" y="761" width="113" height="86"/><rect x="1337" y="761" width="113" height="86"/>
</g>
<g id="scat"></g>
<g font-size="7" font-weight="bold" text-anchor="middle">
<text x="1002" y="859">(a) CubeMLP</text><text x="1130" y="859">(b) TransM</text><text x="1261" y="859">(c) GCNet</text><text x="1393" y="859">(d) HRLF</text>
</g>
</svg>
</div>
<script>
(function(){
var NS="http://www.w3.org/2000/svg";
function el(p,t,a){var e=document.createElementNS(NS,t);for(var k in a)e.setAttribute(k,a[k]);p.appendChild(e);return e;}
function $(i){return document.getElementById(i);}
// justify intro lines with word spacing
try{document.querySelectorAll("text.jl").forEach(function(t){
 var s=t.textContent;var n=(s.match(/ /g)||[]).length;if(!n)return;
 t.removeAttribute("textLength");t.removeAttribute("lengthAdjust");
 var w=t.getComputedTextLength();var ws=(401-w)/n;
 if(ws>-2){t.setAttribute("word-spacing",ws.toFixed(3));}else{t.setAttribute("textLength","401");t.setAttribute("lengthAdjust","spacingAndGlyphs");}
});}catch(e){}
var seed=12345;function rnd(){seed=(seed*16807)%2147483647;return (seed-1)/2147483646;}
function gauss(){var u=rnd()||1e-6,v=rnd();return Math.sqrt(-2*Math.log(u))*Math.cos(6.283*v);}
function wave(g,x0,x1,yc,amp,col,fade){
 var bursts=[0.1,0.3,0.47,0.8,0.92];
 for(var x=x0;x<=x1;x+=0.45){
  var t=(x-x0)/(x1-x0),e=0.08;
  bursts.forEach(function(b){e+=Math.exp(-Math.pow((t-b)/0.045,2));});
  var h=amp*Math.min(1,e)*(0.3+0.7*rnd());
  var c=col;if(fade){fade.forEach(function(f){if(x>=f[0]&&x<=f[1])c="#c8a8e0";});}
  el(g,"line",{x1:x,y1:yc-h,x2:x,y2:yc+h,stroke:c,"stroke-width":0.45});
 }
 el(g,"line",{x1:x0,y1:yc,x2:x1,y2:yc,stroke:col,"stroke-width":0.5});
}
wave($("w1"),157,250,291.7,7,"#1a1ab4");
wave($("w1"),157,250,369.2,7,"#1a1ab4",[[200,214],[237,251]]);
wave($("w3"),613,698,303.5,6,"#1a1ab4");
wave($("w4"),613,698,524.5,6,"#1a1ab4",[[637,647],[686,694]]);
function faces(g,xs,y,h,w){xs.forEach(function(x){
 el(g,"rect",{x:x,y:y,width:w,height:h,fill:"#6b4a30"});
 el(g,"rect",{x:x,y:y,width:w,height:h*0.45,fill:"#8a6a44"});
 el(g,"ellipse",{cx:x+w/2,cy:y+h*0.55,rx:w*0.22,ry:h*0.3,fill:"#c27a4a"});
 el(g,"rect",{x:x+w*0.2,y:y+h*0.8,width:w*0.6,height:h*0.2,fill:"#2a3040"});
});}
faces($("faces1"),[155,183,223],305,19.5,26.5);
faces($("faces2"),[156,184,224],381,19,26);
faces($("faces3"),[613,638,676],317,18,22);
faces($("faces4"),[613,638,676],538,17,22);
[277,341,412,482,549].forEach(function(y){[714,1033].forEach(function(x){
 el($("chev"),"polygon",{points:[x,y-6,x+7,y-6,x+7,y-13,x+15,y,x+7,y+13,x+7,y+6,x,y+6].join(" ")});});});
function nn(cx,cy){var g=$("nn");var L=[[cx,[-11,0,11]],[cx+15,[-11,0,11]],[cx+33,[-6,6]]];
 for(var i=0;i<2;i++)L[i][1].forEach(function(a){L[i+1][1].forEach(function(b){el(g,"line",{x1:L[i][0],y1:cy+a,x2:L[i+1][0],y2:cy+b,stroke:"#777","stroke-width":0.4});});});
 L.forEach(function(l){l[1].forEach(function(d){el(g,"circle",{cx:l[0],cy:cy+d,r:4.5,fill:"#cfe3f7",stroke:"#4a7fc0","stroke-width":0.7});});});}
nn(1342,311.5);nn(1342,532.5);
var ng=$("nips");
for(var ring=0;ring<5;ring++){var r=26+ring*8;
 for(var th=75;th<=290;th+=11-ring){var a=th*Math.PI/180;
  var x=1330+r*Math.cos(a)*0.85,y=103-r*Math.sin(a);
  if(y<42||y>162)continue;
  var t=(y-42)/120;var col="rgb("+Math.round(90+70*t)+","+Math.round(50+60*t)+","+Math.round(140+50*t)+")";
  el(ng,"ellipse",{cx:x,cy:y,rx:1.2+1.3*rnd(),ry:1.8+1.5*rnd(),fill:col,opacity:0.9});}}
var cols=["#1f5fa8","#f5b800","#2ab34a","#6a6aaa","#999999","#ff7777","#5aa0e0","#e87020","#e81010"];
var lx=[975,1026,1083,1130,1177,1228,1271,1319,1371];
lx.forEach(function(x,i){el($("leg"),"line",{x1:x,y1:650,x2:x+6,y2:650,stroke:cols[i],"stroke-width":1.5});
 el($("leg"),"line",{x1:x+3,y1:648,x2:x+3,y2:652,stroke:cols[i],"stroke-width":1});});
var plots=[[948.4,1054.5,100,30],[1078,1183,100,30],[1206.7,1312.4,100,30],[1335.6,1441,80,30]];
var cg=$("charts");
plots.forEach(function(p,pi){
 var x0=p[0],x1=p[1],y0=658.5,y1=716.3,hi=p[2],lo=p[3];
 el(cg,"rect",{x:x0,y:y0,width:x1-x0,height:y1-y0,fill:"#f6faee",stroke:"#555","stroke-width":0.8});
 var ps=[1.5,1.3,1.4,1.6,1.8,2.0,2.3,2.6,3.2];
 var S=pi==3?[68,70,71,67,68,69,72,71,72]:[83,86,90,84,85,86,88,87,88];
 var E=pi==3?[43,44,44,45,44,46,42,45,44]:[44,46,47,49,47,49,51,50,50];
 for(var k=0;k<9;k++){var pts=[];
  for(var i=0;i<=10;i++){var t=i/10;var v=S[k]-(S[k]-E[k])*Math.pow(t,ps[k])+(i>0&&i<10?gauss()*0.8:0);
   pts.push((x0+3+(x1-x0-6)*t).toFixed(2)+","+(y1-(v-lo)/(hi-lo)*(y1-y0)).toFixed(2));}
  el(cg,"polyline",{points:pts.join(" "),fill:"none",stroke:cols[k],"stroke-width":k==8?1:0.7});}
});
var SC={h:"#e8178a",a:"#eee200",n:"#8a2fb0",s:"#16b8d8"};
var boxes=[[946,761,112,86],[1073,761,114,86],[1205,761,113,86],[1337,761,113,86]];
var cl=[
 [["n",.35,.35,.1,.1],["a",.45,.42,.12,.12],["h",.32,.55,.1,.1],["s",.48,.62,.13,.15]],
 [["a",.55,.2,.07,.07],["h",.35,.45,.1,.1],["s",.3,.7,.1,.07],["n",.7,.62,.07,.1]],
 [["s",.3,.3,.08,.12],["a",.55,.25,.08,.08],["h",.68,.55,.08,.06],["n",.45,.68,.07,.12]],
 [["a",.45,.16,.06,.08],["s",.28,.55,.08,.07],["h",.75,.47,.06,.05],["n",.52,.72,.04,.12]]];
var sg=$("scat");
boxes.forEach(function(b,bi){cl[bi].forEach(function(c){
 for(var i=0;i<60;i++){var x=c[1]+gauss()*c[3],y=c[2]+gauss()*c[4];
  if(x<.04||x>.96||y<.04||y>.96)continue;
  el(sg,"circle",{cx:b[0]+x*b[2],cy:b[1]+y*b[3],r:0.9,fill:SC[c[0]]});}});});
})();
</script>
</body></html>
